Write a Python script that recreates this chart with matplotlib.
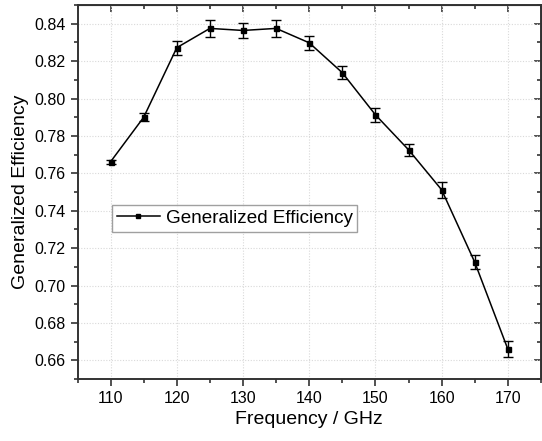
import matplotlib.pyplot as plt
from matplotlib.lines import Line2D
from matplotlib.ticker import MultipleLocator

freq = [110, 115, 120, 125, 130, 135, 140, 145, 150, 155, 160, 165, 170]
efficiency = [0.7662, 0.7900, 0.8272, 0.8375, 0.8364, 0.8375, 0.8298,
              0.8138, 0.7913, 0.7726, 0.7512, 0.7125, 0.6660]
err = [0.0010, 0.0020, 0.0038, 0.0044, 0.0040, 0.0044, 0.0036,
       0.0034, 0.0036, 0.0032, 0.0043, 0.0036, 0.0044]

plt.rcParams["font.family"] = ["Liberation Sans", "DejaVu Sans"]

fig = plt.figure(figsize=(5.42, 4.41), dpi=100)
ax = fig.add_axes([0.143, 0.1406, 0.855, 0.848])

ax.errorbar(freq, efficiency, yerr=err, color="black", lw=1.1,
            marker="s", ms=3.6, capsize=3.5, elinewidth=1.0, capthick=1.0)

ax.set_xlim(105, 175)
ax.set_ylim(0.65, 0.85)
ax.xaxis.set_major_locator(MultipleLocator(10))
ax.xaxis.set_minor_locator(MultipleLocator(5))
ax.yaxis.set_major_locator(MultipleLocator(0.02))
ax.yaxis.set_minor_locator(MultipleLocator(0.01))
ax.yaxis.set_major_formatter(plt.FormatStrFormatter("%.2f"))

ax.grid(True, which="major", color="#d9d9d9", ls=(0, (1, 1.5)), lw=0.8)
ax.set_axisbelow(True)

for s in ax.spines.values():
    s.set_linewidth(1.4)
    s.set_color("#333333")

ax.tick_params(which="both", direction="out", top=False, right=False,
               labelsize=11.5, width=1.2, color="#333333")
ax.tick_params(which="major", length=5)
ax.tick_params(which="minor", length=3)

# inward ticks on the opposite axes
ax_top = ax.secondary_xaxis("top")
ax_top.xaxis.set_major_locator(MultipleLocator(10))
ax_top.xaxis.set_minor_locator(MultipleLocator(5))
ax_top.tick_params(which="both", direction="in", labeltop=False, width=1.2, color="#333333")
ax_top.tick_params(which="major", length=5)
ax_top.tick_params(which="minor", length=3)
ax_right = ax.secondary_yaxis("right")
ax_right.yaxis.set_major_locator(MultipleLocator(0.02))
ax_right.yaxis.set_minor_locator(MultipleLocator(0.01))
ax_right.tick_params(which="both", direction="in", labelright=False, width=1.2, color="#333333")
ax_right.tick_params(which="major", length=5)
ax_right.tick_params(which="minor", length=3)

ax.set_xlabel("Frequency / GHz", fontsize=14)
ax.set_ylabel("Generalized Efficiency", fontsize=14)

handle = Line2D([], [], color="black", lw=1.1, marker="s", ms=3)
leg = ax.legend(handles=[handle], labels=["Generalized Efficiency"],
                loc="upper left", bbox_to_anchor=(0.074, 0.465), fontsize=13.6,
                frameon=True, fancybox=False, edgecolor="#888888",
                handlelength=2.3, handletextpad=0.3, borderpad=0.25,
                borderaxespad=0)
leg.get_frame().set_linewidth(1.0)

fig.savefig("out.png", dpi=100)
